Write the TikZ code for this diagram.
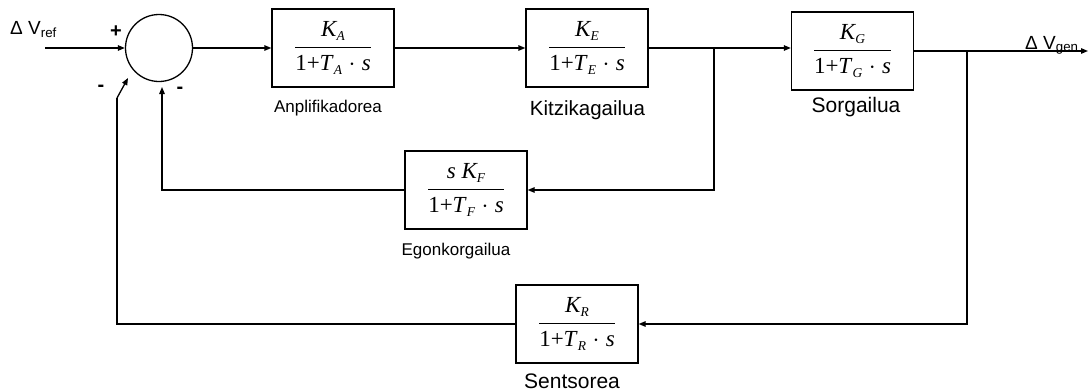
\documentclass[tikz,border=0pt]{standalone}
\usepackage{fontspec}
\setmainfont{Liberation Sans}
\newfontfamily\tms{Liberation Serif}
\usetikzlibrary{arrows.meta}
\newcommand{\sbs}[1]{\raisebox{-0.45ex}{\fontsize{13.5}{14}\selectfont\itshape #1}}
\newcommand{\blockfrac}[2]{\fontsize{23}{27}\selectfont\tms$\displaystyle\frac{\hbox{\tms\itshape #1}}{\hbox{\tms #2}}$}
\newcommand{\den}[1]{1+\textit{T}\sbs{#1}\;$\cdot$\;\textit{s}}
\tikzset{
  blk/.style={draw, line width=1.3pt, minimum width=122pt, minimum height=78pt, inner sep=0pt},
  sig/.style={line width=1.3pt, -{Triangle[length=7pt,width=5.5pt]}},
  wire/.style={line width=1.3pt},
  lbl/.style={anchor=base, inner sep=0pt},
  sgn/.style={font=\fontsize{20}{22}\selectfont\bfseries, inner sep=0pt},
}
\begin{document}
\begin{tikzpicture}[x=1pt,y=-1pt]
\useasboundingbox (0,0) rectangle (1089,391);
\node[circle, draw, line width=1.3pt, minimum size=67pt, inner sep=0pt] (sum) at (159,48) {};
\node[blk] (A) at (333,48) {\blockfrac{K\sbs{A}}{\den{A}}};
\node[blk] (E) at (587,48) {\blockfrac{K\sbs{E}}{\den{E}}};
\node[blk] (G) at (852.5,51) {\blockfrac{K\sbs{G}}{\den{G}}};
\node[blk] (F) at (466,190) {\blockfrac{s K\sbs{F}}{\den{F}}};
\node[blk] (R) at (577,324) {\blockfrac{K\sbs{R}}{\den{R}}};
% labels
\node[lbl, font=\fontsize{17}{20}\selectfont] (lA) at (328,112) {Anplifikadorea};
\node[lbl, font=\fontsize{20.5}{24}\selectfont] (lE) at (587.5,115) {Kitzikagailua};
\node[lbl, font=\fontsize{21}{24}\selectfont] (lG) at (856,112) {Sorgailua};
\node[lbl, font=\fontsize{17}{20}\selectfont] (lF) at (456,255) {Egonkorgailua};
\node[lbl, font=\fontsize{21}{24}\selectfont] (lR) at (572,388) {Sentsorea};
\node[anchor=base west, inner sep=0pt, font=\fontsize{19}{22}\selectfont] (vref) at (10,34) {Δ V\textsubscript{ref}};
\node[anchor=base west, inner sep=0pt, font=\fontsize{19}{22}\selectfont] (vgen) at (1025,49) {Δ V\textsubscript{gen}};
\node[sgn] (plus) at (116,32) {+};
\node[sgn] (m1) at (101,88) {-};
\node[sgn] (m2) at (180,90) {-};
% coordinates
\coordinate (in) at (45,48);
\coordinate (out) at (1088,51);
\coordinate (b1) at (714,48);
\coordinate (b2) at (967,51);
\coordinate (fin) at (162,87);
\coordinate (rk) at (117,98);
\coordinate (rin) at (128,78);
% connectors
\draw[sig] (in) -- (sum.west);
\draw[sig] (sum.east) -- (A.west);
\draw[sig] (A.east) -- (E.west);
\draw[sig] (E.east) -- (E.east -| G.west);
\draw[sig] (G.east) -- (out);
\draw[sig] (b1) |- (F.east);
\draw[sig] (F.west) -| (fin);
\draw[sig] (b2) |- (R.east);
\draw[wire] (R.west) -| (rk);
\draw[sig] (rk) -- (rin);
\end{tikzpicture}
\end{document}
